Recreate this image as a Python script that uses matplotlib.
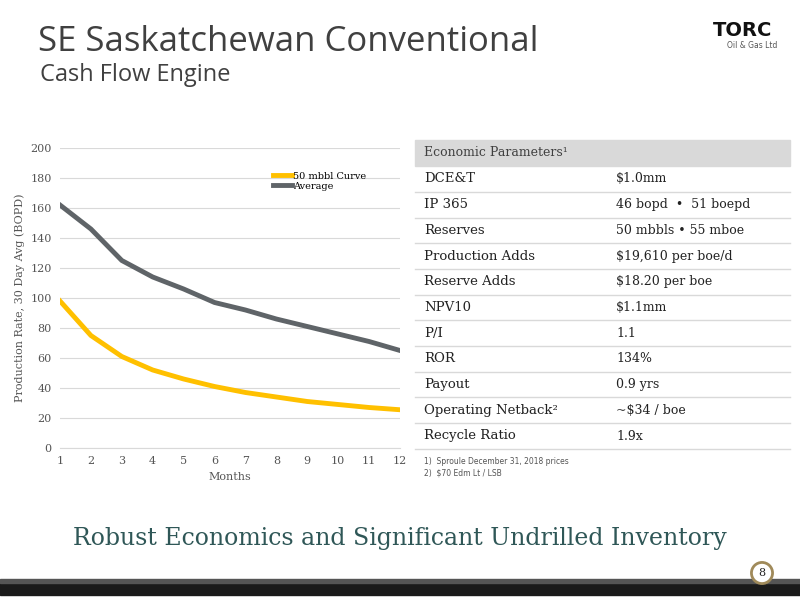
import matplotlib
matplotlib.use("Agg")
import matplotlib.pyplot as plt
from matplotlib.patches import Rectangle

months = list(range(1, 13))
curve50 = [98, 75, 61, 52, 46, 41, 37, 34, 31, 29, 27, 25.5]
average = [162, 146, 125, 114, 106, 97, 92, 86, 81, 76, 71, 65]
param_names = ["DCE&T", "IP 365", "Reserves", "Production Adds", "Reserve Adds", "NPV10",
               "P/I", "ROR", "Payout", "Operating Netback²", "Recycle Ratio"]
param_values = ["$1.0mm", "46 bopd  •  51 boepd", "50 mbbls • 55 mboe", "$19,610 per boe/d",
                "$18.20 per boe", "$1.1mm", "1.1", "134%", "0.9 yrs", "~$34 / boe", "1.9x"]

W, H = 800, 600
fig = plt.figure(figsize=(8, 6), dpi=100)
def fx(x): return x / W
def fy(y): return 1 - y / H

fig.text(fx(38), fy(42), "SE Saskatchewan Conventional", fontsize=25, color="#404040",
         family="Open Sans", va="center")
fig.text(fx(40), fy(75), "Cash Flow Engine", fontsize=17, color="#404040",
         family="Open Sans", va="center")
fig.text(fx(743), fy(30), "TORC", fontsize=14, fontweight="bold", color="#111111", ha="center", va="center")
fig.text(fx(752), fy(45), "Oil & Gas Ltd", fontsize=5.5, color="#555555", ha="center", va="center")

ax = fig.add_axes([fx(60), fy(448), fx(340), 300 / H])
ax.plot(months, curve50, color="#FFC000", lw=3.5, label="50 mbbl Curve")
ax.plot(months, average, color="#5F6468", lw=3.5, label="Average")
ax.set_xlim(1, 12); ax.set_ylim(0, 200)
ax.set_xticks(months); ax.set_yticks(range(0, 201, 20))
ax.grid(axis="y", color="#d9d9d9", lw=0.8)
for s in ["top", "right", "left"]:
    ax.spines[s].set_visible(False)
ax.spines["bottom"].set_color("#d9d9d9")
ax.tick_params(length=0, labelsize=8, colors="#555555", pad=6)
for t in ax.get_xticklabels() + ax.get_yticklabels():
    t.set_family("DejaVu Serif")
ax.set_xlabel("Months", fontsize=8, color="#555555", family="DejaVu Serif")
ax.set_ylabel("Production Rate, 30 Day Avg (BOPD)", fontsize=8, color="#555555", family="DejaVu Serif")
ax.legend(loc="upper left", bbox_to_anchor=(0.6, 0.95), frameon=False,
          handlelength=2, handletextpad=0.1, labelspacing=0.1, prop={"family": "DejaVu Serif", "size": 7})

# table
fig.patches.append(Rectangle((fx(415), fy(166)), fx(375), 26 / H, transform=fig.transFigure,
                             color="#D9D9D9", zorder=0))
fig.text(fx(424), fy(153), "Economic Parameters¹", fontsize=9, color="#404040", family="DejaVu Serif", va="center")
row_h = 25.7
for i, (n, v) in enumerate(zip(param_names, param_values)):
    yc = 179 + i * row_h
    fig.text(fx(424), fy(yc), n, fontsize=9.5, color="#222222", family="DejaVu Serif", va="center")
    fig.text(fx(616), fy(yc), v, fontsize=9, color="#222222", family="DejaVu Serif", va="center")
    yl = yc + row_h / 2
    fig.add_artist(plt.Line2D([fx(415), fx(790)], [fy(yl), fy(yl)], transform=fig.transFigure,
                              color="#D9D9D9", lw=1))
fig.text(fx(424), fy(462), "1)  Sproule December 31, 2018 prices", fontsize=5.5, color="#555555", va="center")
fig.text(fx(424), fy(473), "2)  $70 Edm Lt / LSB", fontsize=5.5, color="#555555", va="center")

fig.text(0.5, fy(538), "Robust Economics and Significant Undrilled Inventory", fontsize=17,
         color="#2F5757", family="DejaVu Serif", ha="center", va="center")

fig.patches.append(Rectangle((0, fy(595)), 1, 13 / H, transform=fig.transFigure, color="#1a1a1a", zorder=0))
fig.patches.append(Rectangle((0, fy(583)), 1, 4 / H, transform=fig.transFigure, color="#555555", zorder=0))
fig.text(fx(762), fy(573), "8", fontsize=8, color="#222222", ha="center", va="center", family="DejaVu Serif",
         bbox=dict(boxstyle="circle,pad=0.5", fc="white", ec="#A08A5A", lw=2))

fig.savefig("out.png", dpi=100)
